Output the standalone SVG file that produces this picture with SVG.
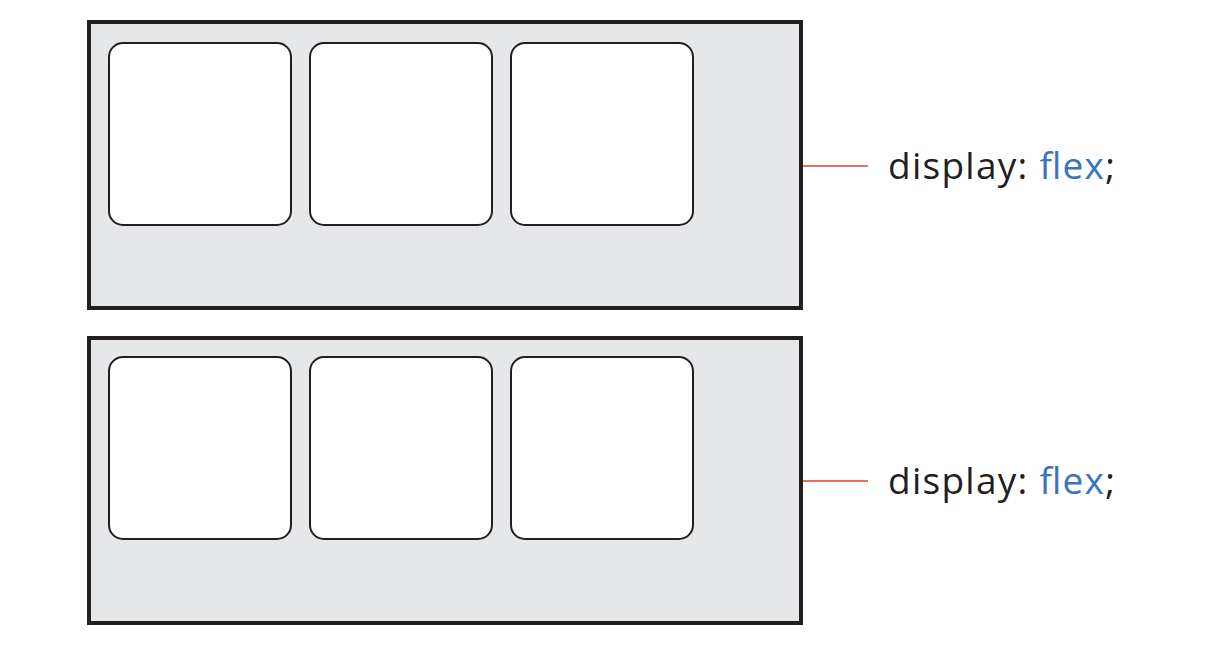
<svg xmlns="http://www.w3.org/2000/svg" width="1216" height="646" viewBox="0 0 1216 646">
<style>
.outer{fill:#e6e7e8;stroke:#231f20;stroke-width:4}
.item{fill:#ffffff;stroke:#231f20;stroke-width:2}
.lead{stroke:#e2402b;stroke-width:1.5;fill:none}
.lbl{font-family:"Open Sans",sans-serif;font-size:37px;fill:#231f20}
.kw{fill:#3a74bd}
</style>
<rect width="1216" height="646" fill="#ffffff"/>
<g id="container1">
<rect class="outer" x="89" y="22" width="712" height="286"/>
<rect class="item" x="109" y="43" width="182" height="182" rx="14"/>
<rect class="item" x="310" y="43" width="182" height="182" rx="14"/>
<rect class="item" x="511" y="43" width="182" height="182" rx="14"/>
</g>
<g id="container2">
<rect class="outer" x="89" y="338" width="712" height="285"/>
<rect class="item" x="109" y="357" width="182" height="182" rx="14"/>
<rect class="item" x="310" y="357" width="182" height="182" rx="14"/>
<rect class="item" x="511" y="357" width="182" height="182" rx="14"/>
</g>
<g id="connectors">
<line class="lead" x1="803" y1="166" x2="868" y2="166"/>
<line class="lead" x1="803" y1="481" x2="868" y2="481"/>
</g>
<g id="label1"><text class="lbl" x="888" y="179" textLength="227" lengthAdjust="spacing">display: <tspan class="kw">flex</tspan>;</text></g>
<g id="label2"><text class="lbl" x="888" y="494" textLength="227" lengthAdjust="spacing">display: <tspan class="kw">flex</tspan>;</text></g>
</svg>
